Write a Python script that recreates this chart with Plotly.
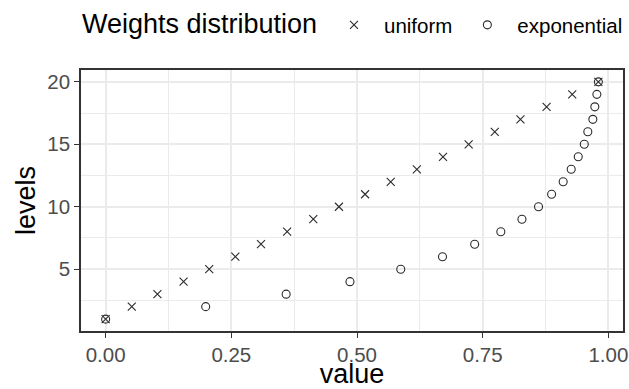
import plotly.graph_objects as go

levels = list(range(1, 21))
uniform_values = [0.000, 0.052, 0.103, 0.155, 0.206, 0.258, 0.309, 0.361, 0.413, 0.464,
                  0.516, 0.567, 0.619, 0.671, 0.722, 0.774, 0.825, 0.877, 0.928, 0.980]
exponential_values = [0.000, 0.199, 0.359, 0.486, 0.587, 0.670, 0.734, 0.786, 0.828, 0.861,
                      0.887, 0.910, 0.926, 0.940, 0.952, 0.959, 0.969, 0.973, 0.977, 0.980]
series_names = ["uniform", "exponential"]
legend_title = "Weights distribution"
x_ticks = [0.0, 0.25, 0.5, 0.75, 1.0]
y_ticks = [5, 10, 15, 20]

FONT = "Liberation Sans, Arial, sans-serif"
MARK = "#2b2b2b"

fig = go.Figure()
fig.add_trace(go.Scatter(
    x=uniform_values, y=levels, mode="markers", name=series_names[0],
    marker=dict(symbol="x-thin-open", size=8, color=MARK, line=dict(color=MARK, width=1.1)),
))
fig.add_trace(go.Scatter(
    x=exponential_values, y=levels, mode="markers", name=series_names[1],
    marker=dict(symbol="circle-open", size=8, color=MARK, line=dict(color=MARK, width=1.1)),
))

axis_common = dict(
    showline=True, mirror=True, linecolor="#333333", linewidth=1.5,
    ticks="outside", ticklen=5, tickwidth=1.3, tickcolor="#333333",
    showgrid=True, gridcolor="#EBEBEB", gridwidth=1.5,
    zeroline=False, automargin=True,
    tickfont=dict(family=FONT, size=20.5, color="#4D4D4D"),
    title_font=dict(family=FONT, size=27, color="#000000"),
)

fig.update_layout(
    width=629, height=389,
    margin=dict(l=81, r=6, t=70, b=58, autoexpand=False),
    paper_bgcolor="white", plot_bgcolor="white",
    font=dict(family=FONT, color="#000000"),
    xaxis=dict(
        range=[-0.049, 1.029], tickvals=x_ticks, tickformat=".2f",
        title=dict(text="value", standoff=3),
        minor=dict(dtick=0.125, tick0=0, showgrid=True, gridcolor="#EBEBEB", gridwidth=0.8, ticks=""),
        **axis_common,
    ),
    yaxis=dict(
        range=[0.05, 20.95], tickvals=y_ticks,
        title=dict(text="levels", standoff=4),
        minor=dict(dtick=2.5, tick0=0, showgrid=True, gridcolor="#EBEBEB", gridwidth=0.8, ticks=""),
        **axis_common,
    ),
    legend=dict(
        orientation="h", xref="container", yref="container",
        x=324 / 629, xanchor="left", y=1 - 25 / 389, yanchor="middle",
        font=dict(family=FONT, size=20.5, color="#000000"),
        bgcolor="rgba(0,0,0,0)", itemwidth=50,
    ),
    annotations=[dict(
        text=legend_title, xref="paper", yref="paper",
        x=-1 / 542, xanchor="left", y=1 + (70 - 24) / 261, yanchor="middle",
        showarrow=False, font=dict(family=FONT, size=27, color="#000000"),
    )],
    showlegend=True,
)

fig.write_html("out.html", config={"displayModeBar": False},
               post_script="document.body.style.margin='0';document.body.style.padding='0';")
